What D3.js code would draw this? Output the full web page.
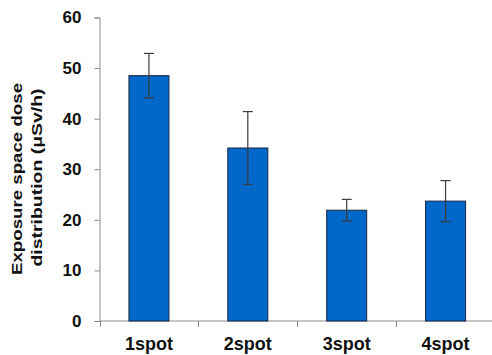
<!DOCTYPE html>
<html><head><meta charset="utf-8">
<script src="https://cdn.jsdelivr.net/npm/d3@7"></script>
<style>body{margin:0;background:#fff}svg{display:block}</style>
</head><body>
<script>
const categories = ["1spot", "2spot", "3spot", "4spot"];
const values = [48.5, 34.2, 21.9, 23.7];
const errors = [4.4, 7.2, 2.15, 4.05];
const yTicks = [0, 10, 20, 30, 40, 50, 60];
const yTitle = ["Exposure space dose", "distribution (\u03bcSv/h)"];

const W = 492, H = 355;
const m = {left: 99.5, right: -3, top: 17.5, bottom: 34};
const svg = d3.select("body").append("svg").attr("width", W).attr("height", H);
const font = "'Liberation Sans', Arial, sans-serif";

const x = d3.scaleBand().domain(categories).range([m.left, W - m.right]).paddingInner(0).paddingOuter(0);
const y = d3.scaleLinear().domain([0, 60]).range([H - m.bottom, m.top]);

// Y axis
const gy = svg.append("g").attr("transform", `translate(${m.left},0)`)
  .call(d3.axisLeft(y).tickValues(yTicks).tickSize(5).tickPadding(13));
gy.select(".domain").attr("stroke", "#8a8a8a");
gy.selectAll(".tick line").attr("stroke", "#8a8a8a");
gy.selectAll(".tick text").attr("font-family", font).attr("font-weight", "bold")
  .attr("font-size", 17).attr("fill", "#111");

// X axis
const x0 = y(0);
svg.append("line").attr("x1", m.left).attr("x2", W).attr("y1", x0).attr("y2", x0)
  .attr("stroke", "#8a8a8a");
const bounds = categories.map(c => x(c)).concat([x(categories[categories.length-1]) + x.bandwidth()]);
svg.selectAll(".xt").data(bounds).join("line")
  .attr("x1", d => Math.round(d) + 0.5).attr("x2", d => Math.round(d) + 0.5)
  .attr("y1", x0).attr("y2", x0 + 6).attr("stroke", "#8a8a8a");
svg.selectAll(".xl").data(categories).join("text")
  .attr("x", d => x(d) + x.bandwidth() / 2).attr("y", x0 + 29)
  .attr("text-anchor", "middle").attr("font-family", font).attr("font-weight", "bold")
  .attr("font-size", 18).attr("fill", "#111").text(d => d);

// Bars
const bw = 40;
svg.selectAll(".bar").data(categories).join("rect")
  .attr("x", d => x(d) + x.bandwidth() / 2 - bw / 2)
  .attr("y", (d, i) => y(values[i]))
  .attr("width", bw)
  .attr("height", (d, i) => y(0) - y(values[i]))
  .attr("fill", "#0068c8").attr("stroke", "#1b2440").attr("stroke-width", 1);

// Error bars
const cap = 10;
const eb = svg.selectAll(".eb").data(categories).join("g");
eb.append("line")
  .attr("x1", d => x(d) + x.bandwidth() / 2).attr("x2", d => x(d) + x.bandwidth() / 2)
  .attr("y1", (d, i) => y(values[i] + errors[i])).attr("y2", (d, i) => y(values[i] - errors[i]))
  .attr("stroke", "#3a3a3a").attr("stroke-width", 1.2);
eb.append("line")
  .attr("x1", d => x(d) + x.bandwidth() / 2 - cap / 2).attr("x2", d => x(d) + x.bandwidth() / 2 + cap / 2)
  .attr("y1", (d, i) => y(values[i] + errors[i])).attr("y2", (d, i) => y(values[i] + errors[i]))
  .attr("stroke", "#3a3a3a").attr("stroke-width", 1.2);
eb.append("line")
  .attr("x1", d => x(d) + x.bandwidth() / 2 - cap / 2).attr("x2", d => x(d) + x.bandwidth() / 2 + cap / 2)
  .attr("y1", (d, i) => y(values[i] - errors[i])).attr("y2", (d, i) => y(values[i] - errors[i]))
  .attr("stroke", "#3a3a3a").attr("stroke-width", 1.2);

// Y title (glyphs stretched along the text direction as in the reference)
const tPos = [{bx: 22, cy: 179, len: 192}, {bx: 42, cy: 177.5, len: 178}];
svg.selectAll(".yt").data(yTitle).join("text")
  .attr("transform", (d, i) => `translate(${tPos[i].bx},${tPos[i].cy}) rotate(-90)`)
  .attr("text-anchor", "middle").attr("font-family", font).attr("font-weight", "bold")
  .attr("font-size", 15).attr("fill", "#111")
  .attr("textLength", (d, i) => tPos[i].len).attr("lengthAdjust", "spacingAndGlyphs")
  .text(d => d);
</script>
</body></html>
